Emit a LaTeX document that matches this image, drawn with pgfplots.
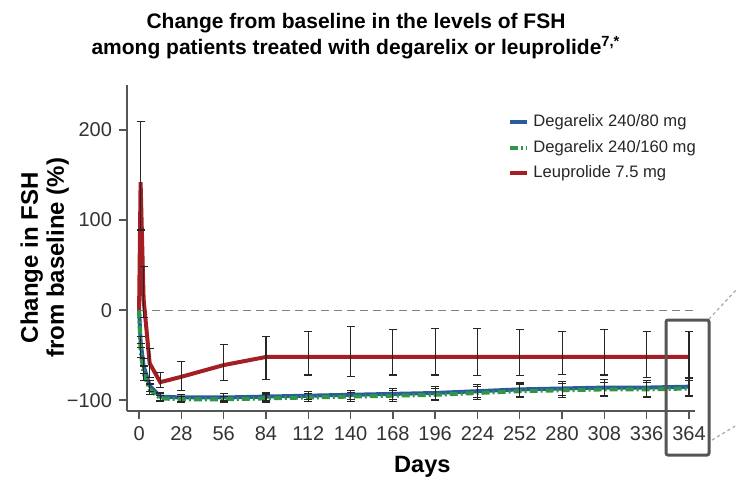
\documentclass[border=0pt]{standalone}
\usepackage{pgfplots}
\pgfplotsset{compat=1.18}
\usepackage{pgfplotstable}
\usepackage{fontspec}
\setmainfont{Liberation Sans}
\definecolor{degblue}{RGB}{42,92,155}
\definecolor{deggreen}{RGB}{46,150,70}
\definecolor{leured}{RGB}{165,30,36}
\definecolor{axgray}{RGB}{85,85,85}

% day, mean
\pgfplotstableread{
d v
0 0
1 -35
3 -62
7 -84
14 -96
28 -97
56 -97
84 -96
112 -95
140 -94
168 -93
196 -92
224 -90
252 -88
280 -87
308 -86
336 -86
364 -85
}\degeighty
\pgfplotstableread{
d v
0 0
1 -45
3 -70
7 -88
14 -98
28 -99
56 -99
84 -98
112 -97
140 -96
168 -95
196 -94
224 -92
252 -90
280 -89
308 -88
336 -88
364 -87
}\degonesixty
\pgfplotstableread{
d v
0 0
1 142
3 12
7 -59
14 -80
28 -74
56 -61
84 -52
112 -52
140 -52
168 -52
196 -52
224 -52
252 -52
280 -52
308 -52
336 -52
364 -52
}\leuprolide

% error bars: day, mean, plus, minus
\pgfplotstableread{
d v p m
1 -35 6 6
3 -62 8 8
7 -84 6 6
14 -96 4 4
28 -97 3 4
56 -97 4 3
84 -96 4 4
112 -95 5 4
140 -94 5 5
168 -93 6 6
196 -92 7 7
224 -90 7 7
252 -88 8 8
280 -87 8 8
308 -86 9 9
336 -86 8 10
364 -85 9 10
}\errblue
\pgfplotstableread{
d v p m
1 -45 8 8
3 -70 8 8
7 -88 6 6
14 -98 3 3
28 -99 3 3
56 -99 3 3
84 -98 4 4
112 -97 4 4
140 -96 5 5
168 -95 6 6
196 -94 7 6
224 -92 7 7
252 -90 8 7
280 -89 8 8
308 -88 8 8
336 -88 8 9
364 -87 9 9
}\errgreen
\pgfplotstableread{
d v p m
1 142 67 53
3 12 36 20
7 -59 16 16
14 -80 11 6
28 -74 17 15
56 -61 23 17
84 -52 23 25
112 -52 28 20
140 -52 34 22
168 -52 31 20
196 -52 32 20
224 -52 32 21
252 -52 31 21
280 -52 28 19
308 -52 31 20
336 -52 28 23
364 -52 28 23
}\errred

\begin{document}
\begin{tikzpicture}
\begin{axis}[
  at={(0,0)}, anchor=south west,
  scale only axis,
  width=284pt, height=163pt,
  xmin=-8, xmax=368,
  ymin=-112, ymax=250,
  axis lines*=left,
  axis line style={axgray, line width=0.8pt},
  tick align=outside,
  major tick length=4pt,
  tick style={axgray, line width=0.7pt},
  xtick={0,28,...,364},
  ytick={-100,0,100,200},
  yticklabels={−100,0,100,200},
  /pgf/number format/assume math mode=true,
  tick label style={font=\fontsize{10}{12}\selectfont, text=black!80},
  xlabel={Days},
  xlabel style={font=\bfseries\fontsize{11.8}{13}\selectfont, at={(axis description cs:0.52,0)}, anchor=north, yshift=-19pt},
  ylabel={Change in FSH\\from baseline (\%)},
  ylabel style={font=\bfseries\fontsize{12}{13}\selectfont, align=center, at={(axis description cs:-0.145,0.47)}, anchor=center},
  legend style={at={(axis description cs:0.66,0.935)}, anchor=north west, draw=none, fill=none,
    font=\fontsize{8.3}{10}\selectfont, row sep=1.2pt, text=black!85},
  legend cell align=left,
  legend image code/.code={\draw[#1] (0cm,0cm) -- (0.3cm,0cm);},
  clip=false,
]
\addplot[forget plot, gray, line width=0.6pt, dash pattern=on 4pt off 2.5pt] coordinates {(0,0) (368,0)};

\addplot[degblue, line width=2pt] table[x=d, y=v] {\degeighty};
\addlegendentry{Degarelix 240/80 mg}
\addplot[deggreen, line width=2pt, dash pattern=on 4pt off 1.5pt on 1pt off 1.5pt] table[x=d, y=v] {\degonesixty};
\addlegendentry{Degarelix 240/160 mg}
\addplot[leured, line width=2pt] table[x=d, y=v] {\leuprolide};
\addlegendentry{Leuprolide 7.5 mg}

\pgfplotsset{errs/.style={forget plot, draw=none, no markers,
  error bars/.cd, y dir=both, y explicit,
  error bar style={line width=0.55pt, draw=black!85, solid},
  error mark options={rotate=90, mark size=2pt, line width=0.55pt, draw=black!85, solid}}}
\addplot[errs] table[x=d, y=v, y error plus=p, y error minus=m] {\errgreen};
\addplot[errs] table[x=d, y=v, y error plus=p, y error minus=m] {\errblue};
\addplot[errs] table[x=d, y=v, y error plus=p, y error minus=m] {\errred};
\end{axis}

% highlight box around day 364 and zoom guides
\draw[axgray, line width=1.5pt, rounded corners=1pt] (269.5pt,-22pt) rectangle (291pt,45.5pt);
\draw[gray!70, line width=0.6pt, dash pattern=on 1.5pt off 1.5pt] (291pt,46pt) -- (305pt,61pt);
\draw[gray!70, line width=0.6pt, dash pattern=on 1.5pt off 1.5pt] (292.5pt,-14.5pt) -- (305pt,-7pt);

% title
\node[align=center, font=\bfseries\fontsize{10.5}{13}\selectfont] at (114.5pt,187.5pt)
  {Change from baseline in the levels of FSH\\among patients treated with degarelix or leuprolide\textsuperscript{7,*}};

\pgfresetboundingbox
\useasboundingbox (-63.5pt,-33pt) rectangle (305pt,205.5pt);
\end{tikzpicture}
\end{document}
